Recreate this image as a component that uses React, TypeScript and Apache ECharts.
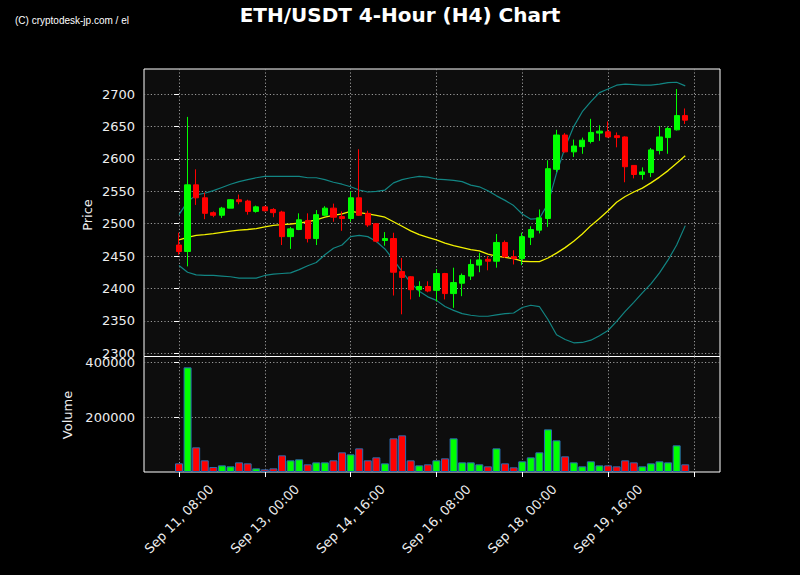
import React, { useEffect, useRef } from "react";
import * as echarts from "echarts";

const tickIndex = [0, 10, 20, 30, 40, 50, 60];
const tickLabels = ["Sep 11, 08:00", "Sep 13, 00:00", "Sep 14, 16:00", "Sep 16, 08:00", "Sep 18, 00:00", "Sep 19, 16:00", ""];
const priceTicks = [2300, 2350, 2400, 2450, 2500, 2550, 2600, 2650, 2700];
const volumeTicks = [200000, 400000];

const opens = [2467, 2457, 2560, 2540, 2517, 2513, 2524, 2537, 2535, 2519, 2526, 2522, 2518, 2480, 2491, 2505, 2477, 2513, 2524, 2511,
  2508, 2540, 2516, 2500, 2474, 2477, 2426, 2418, 2398, 2403, 2397, 2423, 2392, 2408, 2419, 2436, 2445, 2442, 2471, 2449,
  2446, 2479, 2490, 2508, 2584, 2637, 2611, 2619, 2627, 2640, 2642, 2636, 2634, 2590, 2576, 2579, 2613, 2633, 2645, 2667];
const closes = [2457, 2560, 2540, 2516, 2513, 2524, 2537, 2534, 2519, 2526, 2520, 2517, 2480, 2492, 2506, 2477, 2514, 2524, 2510, 2508,
  2540, 2513, 2498, 2473, 2477, 2425, 2417, 2398, 2403, 2396, 2423, 2392, 2409, 2420, 2437, 2444, 2442, 2471, 2449, 2446,
  2480, 2491, 2509, 2585, 2637, 2611, 2620, 2629, 2641, 2643, 2634, 2633, 2588, 2576, 2580, 2614, 2634, 2647, 2667, 2660];
const lows = [2452, 2434, 2529, 2507, 2510, 2509, 2524, 2530, 2514, 2517, 2519, 2510, 2467, 2461, 2490, 2471, 2467, 2512, 2503, 2489,
  2503, 2512, 2495, 2471, 2466, 2389, 2360, 2383, 2387, 2394, 2380, 2383, 2370, 2388, 2413, 2425, 2428, 2432, 2447, 2437,
  2436, 2467, 2485, 2495, 2580, 2610, 2603, 2608, 2624, 2628, 2633, 2618, 2564, 2570, 2568, 2572, 2607, 2608, 2644, 2654];
const highs = [2486, 2665, 2584, 2548, 2519, 2526, 2538, 2545, 2537, 2528, 2527, 2524, 2520, 2495, 2516, 2516, 2521, 2527, 2531, 2519,
  2550, 2615, 2520, 2501, 2487, 2486, 2447, 2419, 2411, 2411, 2430, 2424, 2432, 2423, 2445, 2455, 2450, 2484, 2474, 2459,
  2486, 2496, 2522, 2598, 2645, 2640, 2630, 2633, 2662, 2652, 2658, 2641, 2635, 2590, 2587, 2617, 2651, 2650, 2708, 2678];
const volumes = [31500, 380600, 89700, 42400, 18200, 24200, 20600, 35100, 31500, 13300, 9700, 13300, 60600, 42400, 46100, 27900, 35100, 35100, 42400, 71500,
  64200, 86000, 42400, 53300, 31500, 122400, 133300, 42400, 24200, 27900, 42400, 49700, 122400, 35100, 35100, 27900, 20600, 86000, 31500, 17000,
  38800, 53300, 71500, 155100, 115100, 57000, 35100, 20600, 38800, 24200, 24200, 20600, 42400, 35100, 20600, 31500, 38800, 35100, 97000, 27900];
const movingAvg = [2475, 2479, 2482, 2483, 2484.5, 2486.5, 2488.5, 2490, 2491, 2492.5, 2495, 2497.5, 2498.5, 2499.5, 2501, 2503, 2506, 2510, 2513, 2515,
  2519, 2517, 2515, 2513, 2510, 2503, 2496, 2489, 2483, 2479, 2475, 2470, 2466, 2463, 2460, 2458, 2453, 2450, 2448, 2446,
  2442, 2441.5, 2441.5, 2447, 2454.5, 2463, 2473, 2484, 2497, 2508, 2520, 2533, 2542, 2549, 2555, 2563, 2572, 2582, 2593.5, 2605];
const upperBand = [2514, 2534, 2544.5, 2547, 2551, 2556, 2561, 2565, 2568, 2571, 2573, 2573, 2573, 2573, 2573, 2571, 2571, 2568, 2564, 2561,
  2557, 2552, 2549, 2550, 2552, 2563, 2568, 2571, 2573, 2572, 2569, 2568, 2567, 2565, 2559.6, 2557, 2551, 2543, 2536, 2528,
  2515, 2507, 2508, 2531, 2578, 2618, 2650, 2673, 2688.6, 2702.5, 2708, 2714, 2715.5, 2715, 2714, 2714, 2715.5, 2718, 2718.5, 2713];
const lowerBand = [2435.5, 2425, 2421, 2420, 2420, 2419, 2418, 2416, 2416, 2416, 2420, 2422, 2423, 2424, 2429, 2435, 2440, 2452, 2462, 2467,
  2480, 2482, 2480, 2472.5, 2461, 2444, 2426, 2409, 2395.5, 2387, 2381.5, 2372, 2366, 2361, 2358.5, 2357, 2357, 2359, 2361, 2362,
  2370.5, 2374, 2372, 2352, 2328.5, 2321, 2316, 2316.5, 2320, 2327, 2335, 2349, 2364.5, 2378.5, 2393, 2407, 2424, 2444, 2467, 2497];

const UP = "#00ff00";
const DOWN = "#ff0000";
const LABEL = "#eeeeee";
const FONT = "DejaVu Sans";

export default function App() {
  const ref = useRef<HTMLDivElement>(null);
  useEffect(() => {
    if (!ref.current) return;
    const chart = echarts.init(ref.current, null, { renderer: "svg" });
    const candles = opens.map((o, i) => [i, o, closes[i], lows[i], highs[i]]);
    const vols = volumes.map((v, i) => ({
      value: [i, v],
      itemStyle: { color: closes[i] >= opens[i] ? UP : DOWN },
    }));
    const line = (arr: number[]) => arr.map((v, i) => [i, v]);
    const gridLine = { show: true, lineStyle: { color: "#9a9a9a", type: [1.2, 2.2], width: 1 } };
    const xBase = {
      type: "value" as const,
      min: -4.08,
      max: 63.05,
      axisLine: { show: false },
      splitLine: gridLine,
    };
    const plain = (v: number) => String(Math.round(v));
    chart.setOption({
      animation: false,
      backgroundColor: "#000000",
      title: {
        text: "ETH/USDT 4-Hour (H4) Chart",
        left: "center",
        top: 0,
        textStyle: { color: "#ffffff", fontSize: 20, fontWeight: "bold", fontFamily: FONT },
      },
      graphic: [
        { type: "text", left: 15, top: 15, style: { text: "(C) cryptodesk-jp.com / el", fill: "#ffffff", fontSize: 10, fontFamily: "Liberation Sans" } },
        { type: "text", x: 87, y: 215, rotation: Math.PI / 2, style: { text: "Price", fill: LABEL, fontSize: 13, fontFamily: FONT, align: "center", verticalAlign: "middle" } },
        { type: "text", x: 67, y: 415, rotation: Math.PI / 2, style: { text: "Volume", fill: LABEL, fontSize: 13, fontFamily: FONT, align: "center", verticalAlign: "middle" } },
      ],
      grid: [
        { left: 144, top: 69, width: 576, height: 287.5, show: true, backgroundColor: "#0d0d0d", borderColor: "#ffffff", borderWidth: 1 },
        { left: 144, top: 356.5, width: 576, height: 115.5, show: true, backgroundColor: "#0d0d0d", borderColor: "#ffffff", borderWidth: 1 },
      ],
      xAxis: [
        { ...xBase, gridIndex: 0, axisLabel: { show: false, customValues: tickIndex }, axisTick: { show: false, customValues: tickIndex } },
        {
          ...xBase,
          gridIndex: 1,
          axisTick: { show: true, length: 5, lineStyle: { color: "#ffffff" }, customValues: tickIndex },
          axisLabel: {
            customValues: tickIndex,
            rotate: 45,
            margin: 47,
            align: "center",
            verticalAlign: "middle",
            color: LABEL,
            fontSize: 13,
            fontFamily: FONT,
            formatter: (v: number) => tickLabels[tickIndex.indexOf(Math.round(v))] || "",
          },
        },
      ],
      yAxis: [
        {
          type: "value",
          gridIndex: 0,
          min: 2294.8,
          max: 2739,
          axisLine: { show: false },
          axisTick: { show: true, length: 5, lineStyle: { color: "#ffffff" }, customValues: priceTicks },
          axisLabel: { customValues: priceTicks, color: LABEL, fontSize: 13, fontFamily: FONT, margin: 9, formatter: plain },
          splitLine: gridLine,
        },
        {
          type: "value",
          gridIndex: 1,
          min: 0,
          max: 420000,
          axisLine: { show: false },
          axisTick: { show: true, length: 5, lineStyle: { color: "#ffffff" }, customValues: volumeTicks },
          axisLabel: { customValues: volumeTicks, color: LABEL, fontSize: 13, fontFamily: FONT, margin: 9, formatter: plain },
          splitLine: gridLine,
        },
      ],
      series: [
        {
          type: "line",
          xAxisIndex: 0,
          yAxisIndex: 0,
          data: line(upperBand),
          showSymbol: false,
          lineStyle: { color: "#128583", width: 1.2 },
          z: 2,
        },
        {
          type: "line",
          xAxisIndex: 0,
          yAxisIndex: 0,
          data: line(lowerBand),
          showSymbol: false,
          lineStyle: { color: "#128583", width: 1.2 },
          z: 2,
        },
        {
          type: "line",
          xAxisIndex: 0,
          yAxisIndex: 0,
          data: line(movingAvg),
          showSymbol: false,
          lineStyle: { color: "#f2f200", width: 1.3 },
          z: 3,
        },
        {
          type: "candlestick",
          xAxisIndex: 0,
          yAxisIndex: 0,
          data: candles,
          encode: { x: 0, y: [1, 2, 3, 4] },
          barWidth: 5.7,
          itemStyle: { color: UP, color0: DOWN, borderColor: UP, borderColor0: DOWN, borderWidth: 1 },
          z: 4,
        },
        {
          type: "bar",
          xAxisIndex: 1,
          yAxisIndex: 1,
          data: vols,
          barWidth: 8,
          itemStyle: { borderColor: "#2a6bb0", borderWidth: 1 },
        },
      ],
    });
    return () => chart.dispose();
  }, []);
  return <div ref={ref} style={{ position: "fixed", left: 0, top: 0, width: 800, height: 575 }} />;
}
